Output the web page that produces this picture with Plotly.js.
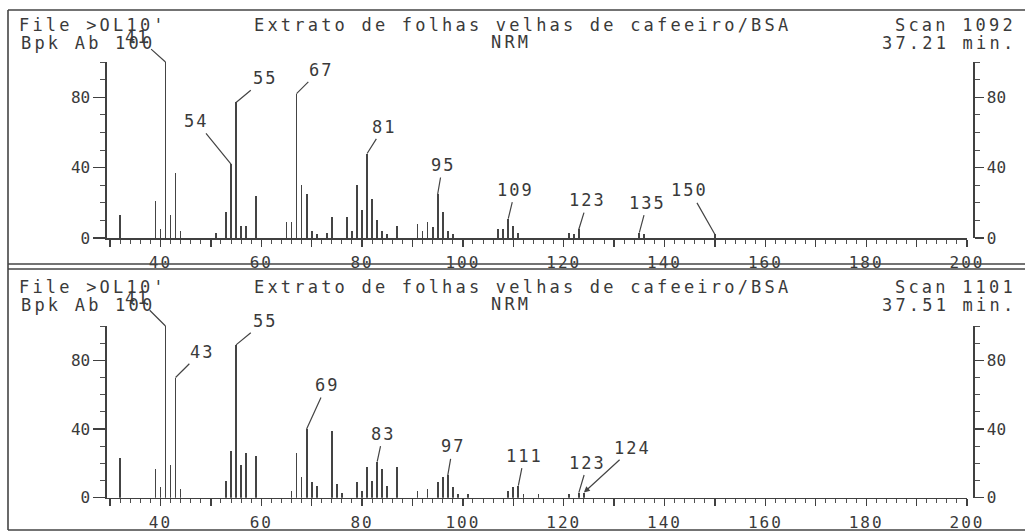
<!DOCTYPE html>
<html>
<head>
<meta charset="utf-8">
<script src="https://cdn.plot.ly/plotly-3.0.1.min.js"></script>
<style>
  html, body { margin: 0; padding: 0; background: #ffffff; }
  #chart { width: 1025px; height: 532px; }
</style>
</head>
<body>
<div id="chart"></div>
<script>
// ---------- DATA ----------
// Top spectrum: Scan 1092, 37.21 min
const mzTop = [32, 39, 40, 41, 42, 43, 44, 51, 53, 54, 55, 56, 57, 59, 65, 66, 67, 68, 69, 70, 71, 73, 74,
               77, 78, 79, 80, 81, 82, 83, 84, 85, 87, 91, 92, 93, 94, 95, 96, 97, 98,
               107, 108, 109, 110, 111, 121, 122, 123, 135, 136, 150];
const abTop = [13, 21, 5, 100, 13, 37, 4, 3, 15, 42, 77, 7, 7, 24, 9, 9, 82, 30, 25, 4, 2, 3, 12,
               12, 4, 30, 16, 48, 22, 10, 4, 2, 7, 8, 4, 9, 6, 25, 15, 4, 2,
               5, 5, 11, 7, 3, 3, 2, 5, 3, 2, 2];
const peakLabelsTop = [41, 54, 55, 67, 81, 95, 109, 123, 135, 150];

// Bottom spectrum: Scan 1101, 37.51 min
const mzBot = [32, 39, 40, 41, 42, 43, 44, 53, 54, 55, 56, 57, 59, 66, 67, 68, 69, 70, 71, 74, 75, 76,
               79, 80, 81, 82, 83, 84, 85, 87, 91, 93, 95, 96, 97, 98, 99, 101,
               109, 110, 111, 112, 115, 121, 123, 124];
const abBot = [23, 17, 6, 100, 19, 70, 5, 10, 27, 89, 19, 26, 24, 4, 26, 12, 40, 9, 7, 39, 8, 3,
               9, 4, 18, 10, 21, 17, 7, 18, 4, 5, 9, 12, 13, 6, 2, 2,
               4, 6, 7, 2, 2, 2, 3, 3];
const peakLabelsBot = [41, 43, 55, 69, 83, 97, 111, 123, 124];

const xTickLabels = ['40', '60', '80', '100', '120', '140', '160', '180', '200'];
const yTickLabels = ['0', '40', '80'];

const headerTop = { file: "File &gt;OL10'", bpk: "Bpk Ab 100", title: "Extrato de folhas velhas de cafeeiro/BSA",
                    sub: "NRM", scan: "Scan 1092", time: "37.21 min." };
const headerBot = { file: "File &gt;OL10'", bpk: "Bpk Ab 100", title: "Extrato de folhas velhas de cafeeiro/BSA",
                    sub: "NRM", scan: "Scan 1101", time: "37.51 min." };

// ---------- STYLE / LAYOUT ----------
const W = 1025, H = 532;
const INK = '#3a3a3a';
const FONT = 'DejaVu Sans Mono';
const px = v => v / W;
const py = v => 1 - v / H;
const sp = (t, s) => '<span style="letter-spacing:' + s + 'px">' + t + '</span>';

// label offsets (pixels, text relative to peak top)
const offTop = { 41: [-28, -25], 54: [-35, -43], 55: [29, -24], 67: [24, -24], 81: [17, -27],
                 95: [5, -29], 109: [7, -29], 123: [9, -29], 135: [8, -30], 150: [-25, -44] };
const offBot = { 41: [-28, -28], 43: [26, -26], 55: [29, -24], 69: [20, -44], 83: [6, -28],
                 97: [5, -29], 111: [6, -30], 123: [9, -30], 124: [49, -45] };

const xTickVals = [], xTickText = [];
for (let v = 30; v <= 200; v += 10) {
  xTickVals.push(v);
  const i = xTickLabels.indexOf(String(v));
  xTickText.push(i >= 0 ? sp(xTickLabels[i], 2) : '');
}

function xAxis(anchor) {
  return {
    domain: [px(107), px(967)], range: [29.4, 200], anchor: anchor,
    showline: true, linecolor: '#404040', linewidth: 1.6, mirror: false,
    ticks: 'outside', ticklen: 7, tickwidth: 1.3, tickcolor: '#404040',
    tickmode: 'array', tickvals: xTickVals, ticktext: xTickText,
    minor: { dtick: 2, tick0: 0, ticks: 'outside', ticklen: 4, tickwidth: 1, tickcolor: '#505050', showgrid: false },
    ticklabelstandoff: 2,
    tickfont: { family: FONT, size: 16, color: INK },
    showgrid: false, zeroline: false, fixedrange: true
  };
}
function yAxisLeft(domain, anchor) {
  return {
    domain: domain, range: [0, 100], anchor: anchor, side: 'left',
    showline: true, linecolor: '#404040', linewidth: 1.6,
    ticks: 'outside', ticklen: 12, tickwidth: 1.3, tickcolor: '#404040',
    tickmode: 'array', tickvals: yTickLabels.map(Number), ticktext: yTickLabels,
    minor: { dtick: 10, tick0: 0, ticks: 'outside', ticklen: 5, tickwidth: 1, tickcolor: '#505050', showgrid: false },
    ticklabelstandoff: 0,
    tickfont: { family: FONT, size: 16, color: INK },
    showgrid: false, zeroline: false, fixedrange: true
  };
}
function yAxisRight(overlay) {
  return {
    overlaying: overlay, range: [0, 100], side: 'right', anchor: 'free', position: px(973),
    showline: true, linecolor: '#404040', linewidth: 1.6,
    ticks: 'outside', ticklen: 9, tickwidth: 1.3, tickcolor: '#404040',
    tickmode: 'array', tickvals: yTickLabels.map(Number), ticktext: yTickLabels,
    minor: { dtick: 10, tick0: 0, ticks: 'outside', ticklen: 5, tickwidth: 1, tickcolor: '#505050', showgrid: false },
    ticklabelstandoff: 0,
    tickfont: { family: FONT, size: 16, color: INK },
    showgrid: false, zeroline: false, fixedrange: true
  };
}

const topDomain = [py(238), py(62)];
const botDomain = [py(497.7), py(326)];

const traces = [
  { type: 'bar', x: mzTop, y: abTop, xaxis: 'x', yaxis: 'y', width: 0.35,
    marker: { color: '#444444', line: { width: 0 } }, hoverinfo: 'x+y' },
  { type: 'bar', x: mzBot, y: abBot, xaxis: 'x2', yaxis: 'y2', width: 0.35,
    marker: { color: '#444444', line: { width: 0 } }, hoverinfo: 'x+y' },
  { type: 'scatter', x: [], y: [], xaxis: 'x', yaxis: 'y3', hoverinfo: 'skip', showlegend: false },
  { type: 'scatter', x: [], y: [], xaxis: 'x2', yaxis: 'y4', hoverinfo: 'skip', showlegend: false }
];

const annotations = [];
function header(h, dy) {
  const f = { family: FONT, size: 17, color: INK };
  const add = (text, x, y, xanchor) => annotations.push({
    xref: 'paper', yref: 'paper', x: px(x), y: py(y + dy), xanchor: xanchor, yanchor: 'middle',
    text: sp(text, 3.2), showarrow: false, font: f
  });
  add(h.file, 17, 25, 'left');
  add(h.bpk, 19, 43, 'left');
  add(h.title, 522, 25, 'center');
  add(h.sub, 511, 42, 'center');
  add(h.scan, 1018, 25, 'right');
  add(h.time, 1018, 43, 'right');
}
header(headerTop, 0);
header(headerBot, 262);

function peakLabels(labels, mz, ab, offs, xa, ya) {
  labels.forEach(m => {
    const i = mz.indexOf(m);
    const o = offs[m];
    annotations.push({
      xref: xa, yref: ya, x: m, y: ab[i], text: sp(String(m), 2),
      showarrow: true, arrowhead: m === 124 ? 2 : 0, arrowsize: 1, arrowwidth: 1.2,
      arrowcolor: '#444444', ax: o[0], ay: o[1], standoff: 0, startstandoff: 1,
      font: { family: FONT, size: 17, color: INK }
    });
  });
}
peakLabels(peakLabelsTop, mzTop, abTop, offTop, 'x', 'y');
peakLabels(peakLabelsBot, mzBot, abBot, offBot, 'x2', 'y2');

const frameLine = { color: '#444444', width: 1.6 };
const shapes = [
  { type: 'line', xref: 'paper', yref: 'paper', x0: px(8), x1: 1, y0: py(10), y1: py(10), line: frameLine },
  { type: 'line', xref: 'paper', yref: 'paper', x0: px(8), x1: 1, y0: py(264), y1: py(264), line: frameLine },
  { type: 'line', xref: 'paper', yref: 'paper', x0: px(8), x1: 1, y0: py(269), y1: py(269), line: frameLine },
  { type: 'line', xref: 'paper', yref: 'paper', x0: px(8), x1: 1, y0: py(530), y1: py(530), line: frameLine },
  { type: 'line', xref: 'paper', yref: 'paper', x0: px(8), x1: px(8), y0: py(10), y1: py(530), line: frameLine }
];

const layout = {
  width: W, height: H,
  margin: { l: 0, r: 0, t: 0, b: 0, pad: 0 },
  paper_bgcolor: '#ffffff', plot_bgcolor: 'rgba(0,0,0,0)',
  showlegend: false, bargap: 0,
  font: { family: FONT, size: 16, color: INK },
  xaxis: xAxis('y'),
  yaxis: yAxisLeft(topDomain, 'x'),
  xaxis2: xAxis('y2'),
  yaxis2: yAxisLeft(botDomain, 'x2'),
  yaxis3: yAxisRight('y'),
  yaxis4: yAxisRight('y2'),
  annotations: annotations,
  shapes: shapes
};

Plotly.newPlot('chart', traces, layout, { staticPlot: true, displayModeBar: false });
</script>
</body>
</html>
